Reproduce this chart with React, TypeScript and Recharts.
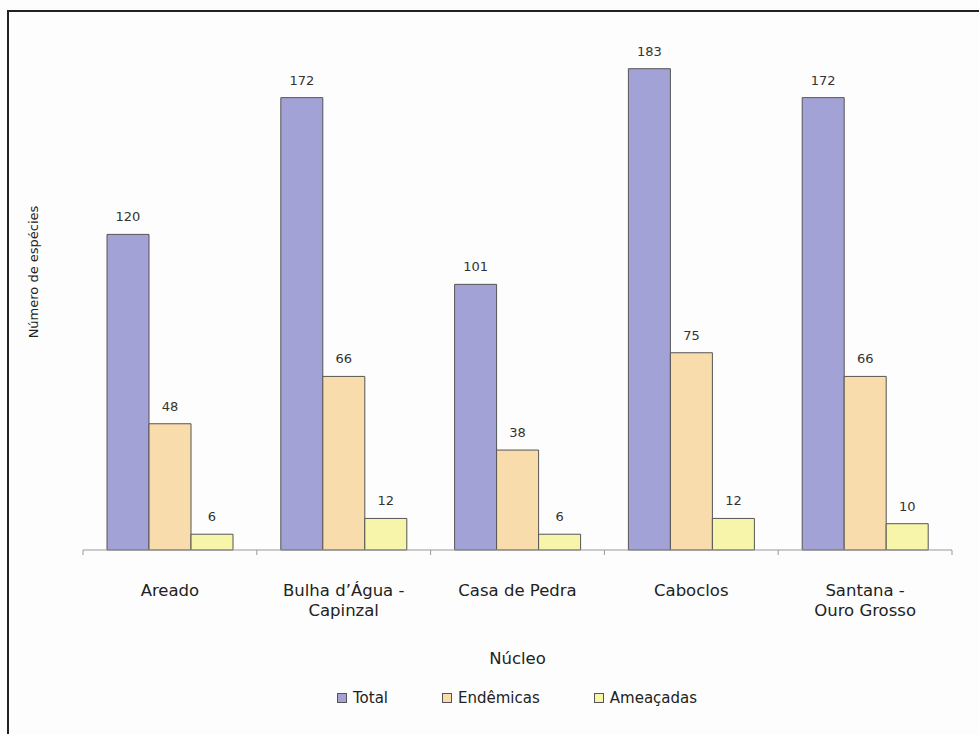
import { BarChart, Bar, XAxis, YAxis, Legend, LabelList } from "recharts";

const nucleos = ["Areado", "Bulha d’Água -\nCapinzal", "Casa de Pedra", "Caboclos", "Santana -\nOuro Grosso"];
const total = [120, 172, 101, 183, 172];
const endemicas = [48, 66, 38, 75, 66];
const ameacadas = [6, 12, 6, 12, 10];

const series = [
  { key: "total", name: "Total", fill: "#a3a2d6" },
  { key: "endemicas", name: "Endêmicas", fill: "#f9dcab" },
  { key: "ameacadas", name: "Ameaçadas", fill: "#f6f5a9" },
];

const data = nucleos.map((n, i) => ({
  nucleo: n,
  total: total[i],
  endemicas: endemicas[i],
  ameacadas: ameacadas[i],
}));

const FONT = "'DejaVu Sans', Verdana, sans-serif";

// category label plus the small tick marks between categories
function NucleoTick(props: any) {
  const { x, y, payload, index, width, visibleTicksCount } = props;
  const half = width / visibleTicksCount / 2;
  const lines = String(payload.value).split("\n");
  return (
    <g>
      <line x1={x - half} x2={x - half} y1={y - 5} y2={y} stroke="#999" />
      {index === visibleTicksCount - 1 && (
        <line x1={x + half} x2={x + half} y1={y - 5} y2={y} stroke="#999" />
      )}
      <text x={x} y={y + 41} textAnchor="middle" fontSize={16.5} fill="#222" fontFamily={FONT}>
        {lines.map((l, i) => (
          <tspan key={i} x={x} dy={i === 0 ? 0 : 20}>
            {l}
          </tspan>
        ))}
      </text>
    </g>
  );
}

function LegendBox() {
  return (
    <div style={{ display: "flex", justifyContent: "center", gap: 54, fontFamily: FONT, fontSize: 15, color: "#222" }}>
      {series.map((s) => (
        <div key={s.key} style={{ display: "flex", alignItems: "center" }}>
          <span style={{ width: 8, height: 8, background: s.fill, border: "1px solid #555", marginRight: 6 }} />
          {s.name}
        </div>
      ))}
    </div>
  );
}

export default function App() {
  return (
    <div style={{ position: "absolute", top: 0, left: 0, width: 979, height: 734, background: "#fdfdfd" }}>
      <div
        style={{
          position: "absolute",
          top: 10,
          left: 7,
          right: 0,
          bottom: 0,
          borderTop: "2px solid #222",
          borderLeft: "2px solid #222",
        }}
      />
      <div style={{ position: "absolute", top: 0, left: 0 }}>
        <BarChart
          width={979}
          height={734}
          data={data}
          margin={{ top: 24, right: 27, left: 23, bottom: 64 }}
          barCategoryGap={24}
          barGap={0}
        >
          <XAxis
            dataKey="nucleo"
            height={120}
            interval={0}
            tickLine={false}
            tickSize={5}
            tickMargin={0}
            axisLine={{ stroke: "#999" }}
            tick={<NucleoTick />}
            label={{
              content: ({ viewBox }: any) => (
                <text
                  x={viewBox.x + viewBox.width / 2}
                  y={viewBox.y + 114}
                  textAnchor="middle"
                  fontSize={16.5}
                  fill="#222"
                  fontFamily={FONT}
                >
                  Núcleo
                </text>
              ),
            }}
          />
          <YAxis
            domain={[0, 200]}
            width={60}
            axisLine={false}
            tickLine={false}
            tick={false}
            label={{
              content: () => (
                <text
                  x={33}
                  y={272}
                  transform="rotate(-90, 33, 272)"
                  textAnchor="middle"
                  dominantBaseline="central"
                  fontSize={13}
                  fill="#222"
                  fontFamily={FONT}
                >
                  Número de espécies
                </text>
              ),
            }}
          />
          <Legend
            verticalAlign="middle"
            align="center"
            layout="horizontal"
            wrapperStyle={{ top: 689, left: 50, width: 934 }}
            content={<LegendBox />}
          />
          {series.map((s) => (
            <Bar key={s.key} dataKey={s.key} name={s.name} fill={s.fill} stroke="#555" strokeWidth={1} isAnimationActive={false}>
              <LabelList dataKey={s.key} position="top" offset={13} fontSize={13} fill="#333" fontFamily={FONT} />
            </Bar>
          ))}
        </BarChart>
      </div>
    </div>
  );
}
